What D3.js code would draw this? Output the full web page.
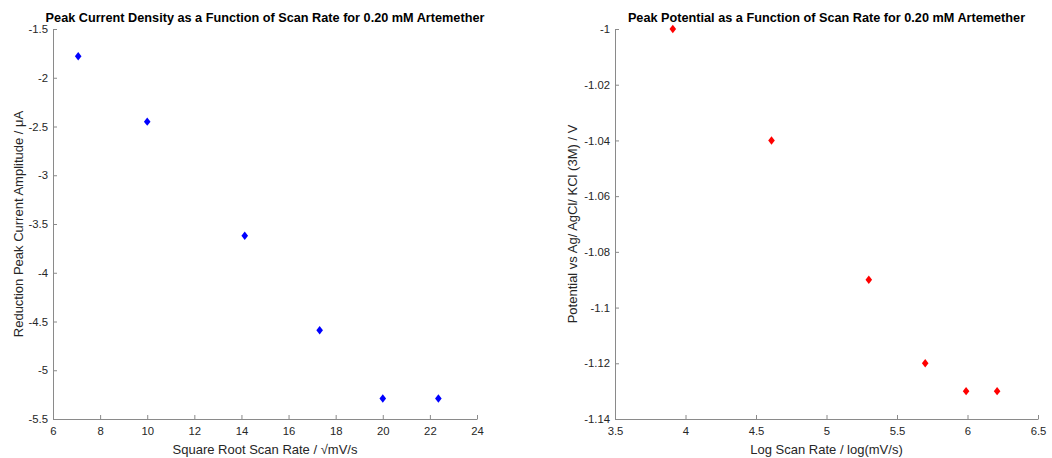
<!DOCTYPE html>
<html>
<head>
<meta charset="utf-8">
<script src="https://cdn.jsdelivr.net/npm/d3@7"></script>
<style>
  body { margin:0; background:#fff; }
  svg { font-family: "Liberation Sans", Arial, Helvetica, sans-serif; }
  .axis path, .axis line { stroke:#8a8a8a; }
  .axis text { fill:#262626; font-size:11.3px; }
  .title { font-weight:bold; font-size:12.7px; fill:#000; }
  .label { font-size:13px; fill:#262626; }
</style>
</head>
<body>
<div id="chart"></div>
<script>
// =====================================================================
// data
var sqrtRate = [7.07, 10.0, 14.14, 17.32, 20.0, 22.36];
var peakCurrent = [-1.78, -2.45, -3.62, -4.59, -5.29, -5.29];
var logRate = [3.91, 4.61, 5.30, 5.70, 5.99, 6.21];
var peakPotential = [-1.00, -1.04, -1.09, -1.12, -1.13, -1.13];

var leftXTicks = [6, 8, 10, 12, 14, 16, 18, 20, 22, 24];
var leftYTicks = [-1.5, -2, -2.5, -3, -3.5, -4, -4.5, -5, -5.5];
var rightXTicks = [3.5, 4, 4.5, 5, 5.5, 6, 6.5];
var rightYTicks = [-1, -1.02, -1.04, -1.06, -1.08, -1.1, -1.12, -1.14];

// =====================================================================
var size = { width:1052, height:458 };
var svg = d3.select("#chart").append("svg")
    .attr("width", size.width).attr("height", size.height);

// MATLAB-ish diamond marker
var diamond = {
    draw: function(ctx, s) {
        var h = 4.2, w = 3.3;
        ctx.moveTo(0, -h); ctx.lineTo(w, 0); ctx.lineTo(0, h); ctx.lineTo(-w, 0); ctx.closePath();
    }
};

function drawPanel(opt) {
    var x = d3.scaleLinear().domain(opt.xDomain).range([opt.left, opt.right]);
    var y = d3.scaleLinear().domain(opt.yDomain).range([opt.bottom, opt.top]);
    var g = svg.append("g");

    g.append("g").attr("class", "axis")
        .attr("transform", "translate(0," + opt.bottom + ")")
        .call(d3.axisBottom(x).tickValues(opt.xTicks).tickSize(-4).tickSizeOuter(0)
            .tickPadding(8).tickFormat(d3.format("")));

    g.append("g").attr("class", "axis")
        .attr("transform", "translate(" + opt.left + ",0)")
        .call(d3.axisLeft(y).tickValues(opt.yTicks).tickSize(-4).tickSizeOuter(0)
            .tickPadding(5).tickFormat(function(d){ return String(+d.toFixed(2)); }));

    g.selectAll(".pt").data(opt.xs).enter().append("path")
        .attr("class", "pt")
        .attr("d", d3.symbol().type(diamond))
        .attr("transform", function(d, i){ return "translate(" + x(d) + "," + y(opt.ys[i]) + ")"; })
        .attr("fill", opt.color);

    g.append("text").attr("class", "title")
        .attr("x", (opt.left + opt.right) / 2).attr("y", 22)
        .attr("text-anchor", "middle").text(opt.title);

    g.append("text").attr("class", "label")
        .attr("x", (opt.left + opt.right) / 2).attr("y", 454)
        .attr("text-anchor", "middle").text(opt.xLabel);

    g.append("text").attr("class", "label")
        .attr("transform", "translate(" + opt.yLabelX + "," + ((opt.top + opt.bottom) / 2) + ") rotate(-90)")
        .attr("text-anchor", "middle").attr("dy", "0.35em").text(opt.yLabel);
}

drawPanel({
    left:53, right:477, top:29, bottom:419,
    xDomain:[6, 24], yDomain:[-5.5, -1.5],
    xTicks:leftXTicks, yTicks:leftYTicks,
    xs:sqrtRate, ys:peakCurrent, color:"#0000ff",
    title:"Peak Current Density as a Function of Scan Rate for 0.20 mM Artemether",
    xLabel:"Square Root Scan Rate / \u221AmV/s",
    yLabel:"Reduction Peak Current Amplitude / \u03BCA",
    yLabelX:18
});

drawPanel({
    left:615, right:1038, top:29, bottom:419,
    xDomain:[3.5, 6.5], yDomain:[-1.14, -1],
    xTicks:rightXTicks, yTicks:rightYTicks,
    xs:logRate, ys:peakPotential, color:"#ff0000",
    title:"Peak Potential as a Function of Scan Rate for 0.20 mM Artemether",
    xLabel:"Log Scan Rate / log(mV/s)",
    yLabel:"Potential vs Ag/ AgCl/ KCl (3M) / V",
    yLabelX:572
});
</script>
</body>
</html>
